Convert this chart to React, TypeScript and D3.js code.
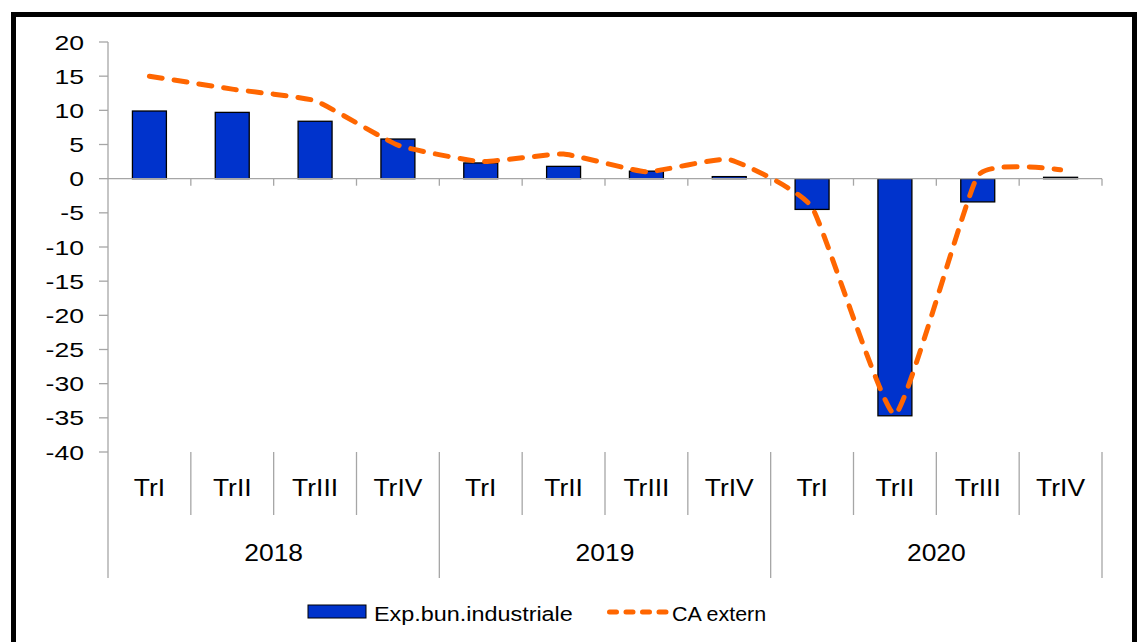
import React from "react";
import * as d3 from "d3";

// quarters, three years
const quarters = ["TrI", "TrII", "TrIII", "TrIV"];
const years = ["2018", "2019", "2020"];
const categories = years.flatMap((y) => quarters.map((q) => y + " " + q));

// Exp.bun.industriale (bars)
const expBun = [9.9, 9.7, 8.4, 5.8, 2.3, 1.8, 1.1, 0.3, -4.5, -34.7, -3.4, 0.2];
// CA extern (dashed line)
const caExtern = [15.0, 13.1, 11.4, 4.9, 2.5, 3.6, 1.0, 2.8, -4.2, -34.5, 0.4, 1.3];

const yTicks = [20, 15, 10, 5, 0, -5, -10, -15, -20, -25, -30, -35, -40];

const W = 1140;
const H = 642;
const left = 108;
const right = 1102;
const top = 42;
const bottom = 452;

const font = "'Liberation Sans', Arial, sans-serif";
const axisColor = "#a6a6a6";
const barColor = "#0033cc";
const lineColor = "#ff6600";

// text is a bit wide in the original, so stretch it horizontally
function Label(props: { x: number; y: number; size: number; sx: number; anchor: string; children: string }) {
  return (
    <text
      transform={"translate(" + props.x + "," + props.y + ") scale(" + props.sx + ",1)"}
      textAnchor={props.anchor}
      fontFamily={font}
      fontSize={props.size}
      fill="#000"
    >
      {props.children}
    </text>
  );
}

export default function App() {
  const xScale = d3.scaleBand<string>().domain(categories).range([left, right]);
  const yScale = d3.scaleLinear().domain([-40, 20]).range([bottom, top]);
  const bw = xScale.bandwidth();
  const barW = bw * 0.41;
  const cx = (c: string) => (xScale(c) as number) + bw / 2;

  const line = d3
    .line<number>()
    .x((d, i) => cx(categories[i]))
    .y((d) => yScale(d))
    .curve(d3.curveCardinal.tension(0.6));

  const y0 = yScale(0);
  const catTickBottom = 515;
  const groupBottom = 578;

  return (
    <svg width={W} height={H} style={{ position: "absolute", left: 0, top: 0, background: "#fff" }}>
      {/* frame */}
      <rect x={13.5} y={14.5} width={1121} height={700} fill="none" stroke="#000" strokeWidth={5} />

      {/* y axis */}
      <line x1={left} x2={left} y1={top} y2={groupBottom} stroke={axisColor} strokeWidth={1.3} />
      {yTicks.map((t) => (
        <g key={t}>
          <line x1={left - 9} x2={left} y1={yScale(t)} y2={yScale(t)} stroke={axisColor} strokeWidth={1.3} />
          <Label x={84} y={yScale(t) + 7.5} size={20} sx={1.33} anchor="end">
            {String(t)}
          </Label>
        </g>
      ))}

      {/* bars */}
      {categories.map((c, i) => {
        const v = expBun[i];
        return (
          <rect
            key={c}
            x={cx(c) - barW / 2}
            y={yScale(Math.max(0, v))}
            width={barW}
            height={Math.abs(yScale(v) - y0)}
            fill={barColor}
            stroke="#000"
            strokeWidth={1.3}
          />
        );
      })}

      {/* x axis at zero */}
      <line x1={left} x2={right} y1={y0} y2={y0} stroke={axisColor} strokeWidth={1.3} />
      {categories.map((c) => {
        const xe = (xScale(c) as number) + bw;
        return <line key={"t" + c} x1={xe} x2={xe} y1={y0} y2={y0 + 7} stroke={axisColor} strokeWidth={1.3} />;
      })}

      {/* line */}
      <path
        d={line(caExtern) || ""}
        fill="none"
        stroke={lineColor}
        strokeWidth={5}
        strokeDasharray="13 12"
        strokeLinecap="round"
      />

      {/* category table below plot */}
      {categories.map((c, i) => {
        const xe = (xScale(c) as number) + bw;
        const isGroupEnd = (i + 1) % 4 === 0;
        return (
          <g key={"c" + c}>
            <line
              x1={xe}
              x2={xe}
              y1={bottom}
              y2={isGroupEnd ? groupBottom : catTickBottom}
              stroke={axisColor}
              strokeWidth={1.3}
            />
            <Label x={cx(c)} y={496} size={23} sx={1.15} anchor="middle">
              {quarters[i % 4]}
            </Label>
          </g>
        );
      })}
      {years.map((y, j) => {
        const x1 = xScale(categories[j * 4]) as number;
        const x2 = (xScale(categories[j * 4 + 3]) as number) + bw;
        return (
          <Label key={y} x={(x1 + x2) / 2} y={560.5} size={23} sx={1.15} anchor="middle">
            {y}
          </Label>
        );
      })}

      {/* legend */}
      <rect x={308} y={605} width={58} height={13} fill={barColor} stroke="#000" strokeWidth={1} />
      <Label x={374} y={621} size={19.5} sx={1.2} anchor="start">
        Exp.bun.industriale
      </Label>
      <line
        x1={609.5}
        x2={666}
        y1={612}
        y2={612}
        stroke={lineColor}
        strokeWidth={5}
        strokeDasharray="7 9.5"
        strokeLinecap="round"
      />
      <Label x={672} y={621} size={19.5} sx={1.1} anchor="start">
        CA extern
      </Label>
    </svg>
  );
}
